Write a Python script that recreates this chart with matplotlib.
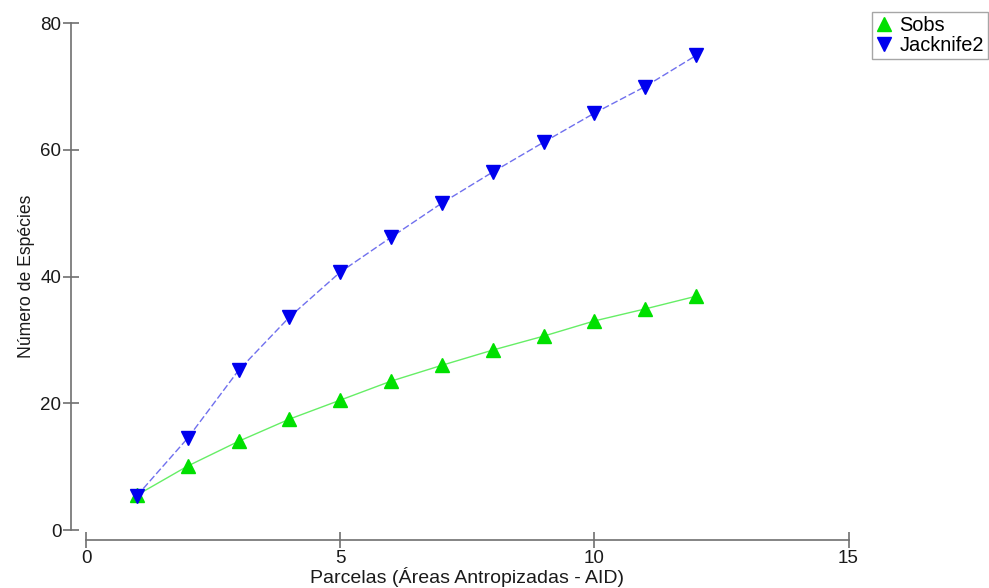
import matplotlib
matplotlib.use("Agg")
import matplotlib.pyplot as plt

plots = [1, 2, 3, 4, 5, 6, 7, 8, 9, 10, 11, 12]
sobs = [5.5, 10.1, 14.0, 17.5, 20.5, 23.5, 26.0, 28.4, 30.6, 33.0, 34.9, 36.9]
jack2 = [5.4, 14.5, 25.2, 33.6, 40.7, 46.2, 51.6, 56.5, 61.2, 65.8, 70.0, 74.9]
x_ticks = [0, 5, 10, 15]
y_ticks = [0, 20, 40, 60, 80]

plt.rcParams["font.family"] = ["Liberation Sans", "DejaVu Sans"]

fig = plt.figure(figsize=(9.89, 5.88), dpi=100)
ax = fig.add_axes([0.087, 0.0986, 0.771, 0.862])

ax.plot(plots, sobs, color="#66ee66", lw=1.0, ls="-",
        marker="^", ms=10.5, mfc="#00e000", mec="#00e000", label="Sobs", zorder=3)
ax.plot(plots, jack2, color="#7070ee", lw=1.0, ls=(0, (5, 2)),
        marker="v", ms=10.5, mfc="#0000ee", mec="#0000ee", label="Jacknife2", zorder=4)

ax.set_xlim(0, 15)
ax.set_ylim(0, 80)
ax.set_xticks(x_ticks)
ax.set_yticks(y_ticks)

for side in ("top", "right"):
    ax.spines[side].set_visible(False)
ax.spines["left"].set_position(("outward", 10.8))
ax.spines["bottom"].set_position(("outward", 7.2))
ax.spines["left"].set_bounds(0, 80)
ax.spines["bottom"].set_bounds(0, 15)
for side in ("left", "bottom"):
    ax.spines[side].set_color("#707070")
    ax.spines[side].set_linewidth(1.2)
ax.tick_params(axis="both", direction="inout", length=12, width=1.2,
               color="#707070", labelsize=13.5, labelcolor="#1a1a1a", pad=1)

ax.set_xlabel("Parcelas (Áreas Antropizadas - AID)", fontsize=14, color="#1a1a1a", labelpad=0)
ax.set_ylabel("Número de Espécies", fontsize=12.7, color="#1a1a1a", labelpad=4)

leg = ax.legend(loc="upper left", bbox_to_anchor=(0.882, 0.979), bbox_transform=fig.transFigure,
                fontsize=14.4, frameon=True, fancybox=False, handlelength=0.75,
                handletextpad=0.4, borderpad=0.2, labelspacing=0.05, borderaxespad=0,
                markerscale=0.95)
leg.get_frame().set_edgecolor("#909090")
leg.get_frame().set_linewidth(1.0)
for h in leg.legend_handles:
    h.set_linestyle("none")

fig.savefig("out.png", dpi=100, facecolor="white")
